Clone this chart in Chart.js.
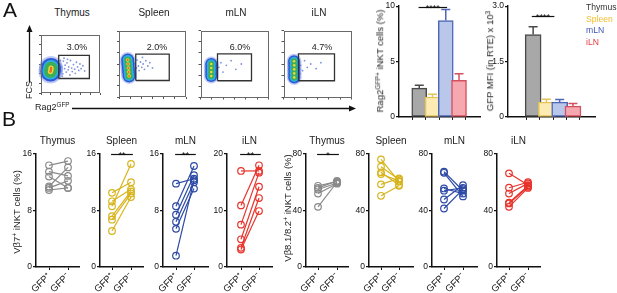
<!DOCTYPE html>
<html><head><meta charset="utf-8">
<script src="https://cdn.jsdelivr.net/npm/chart.js@4.4.0/dist/chart.umd.min.js"></script>
<style>
body{margin:0;width:617px;height:293px;position:relative;background:#fff;font-family:"Liberation Sans",Arial,sans-serif;overflow:hidden}
canvas{position:absolute}
.t{position:absolute;white-space:nowrap;color:#222;font-size:10px;line-height:1}
.c{transform:translate(-50%,-50%)}
.r{transform:translate(-50%,-50%) rotate(-90deg)}
sup{font-size:70%;vertical-align:0;position:relative;top:-0.45em}
</style></head><body>
<svg width="617" height="293" style="position:absolute;left:0;top:0">
  <line x1="29.5" y1="82" x2="29.5" y2="31" stroke="#111" stroke-width="1.3"/>
  <polygon points="29.5,25 26.5,32 32.5,32" fill="#111"/>
  <line x1="72" y1="108.5" x2="350" y2="108.5" stroke="#111" stroke-width="1.3"/>
  <polygon points="356,108.5 349,105.5 349,111.5" fill="#111"/>
</svg>
<script>
// ---------------- DATA ----------------
const tissues = ['Thymus', 'Spleen', 'mLN', 'iLN'];
const gfpLabels = ['GFP⁺', 'GFP⁻'];
const gatePct = ['3.0%', '2.0%', '6.0%', '4.7%'];

// Panel A bar charts
const ragPct = [2.6, 1.8, 8.7, 3.3];
const ragPctErr = [0.25, 0.25, 1.0, 0.6];
const gfpMfi = [2.23, 0.40, 0.40, 0.29];
const gfpMfiErr = [0.21, 0.08, 0.07, 0.07];

// Panel A flow plots (axis units 0-100)
const gateThymus = [30, 82, 25, 65];
const gateSpleen = [25, 75, 25, 65];
const gateMLN = [25, 75, 25, 65];
const gateILN = [22, 75, 25, 65];
const blobThymus = [[16, 37], [17, 40], [17, 43]];
const blobSpleen = [[13, 56], [13.5, 50], [14, 44], [14.5, 38], [15, 32]];
const blobMLN = [[15.8, 50], [15.8, 44], [15.8, 38], [15.8, 32]];
const blobILN = [[15.5, 54], [15.8, 48], [15.8, 42], [15.8, 36], [15.8, 30]];
const dotsThymus = [[32,50],[34,38],[35,45],[37,33],[38,55],[40,42],[41,48],[43,36],[44,52],[46,40],[47,45],[49,31],[50,56],[52,43],[53,37],[55,49],[57,41],[58,34],[60,53],[62,45],[64,39],[66,50],[68,42],[71,47],[74,38],[31,42],[33,56],[36,29],[39,60],[45,58],[26,48],[28,35]];
const dotsSpleen = [[24,50],[26,44],[27,56],[29,47],[30,40],[32,53],[34,45],[36,50],[38,42],[40,55],[43,47],[46,52],[50,44],[22,38],[35,60]];
const dotsMLN = [[27,45],[30,52],[33,38],[38,48],[45,55],[52,42],[24,40],[60,50]];
const dotsILN = [[25,48],[28,40],[31,55],[35,45],[40,50],[48,43],[24,36],[55,52]];

// Panel B paired values (GFP+ , GFP-)
const vb7ThymusPos = [14.4, 13.5, 12.8, 11.4, 11.2, 10.9];
const vb7ThymusNeg = [15.0, 12.9, 11.2, 14.1, 12.2, 11.2];
const vb7SpleenPos = [10.5, 9.3, 8.6, 7.2, 6.7, 5.1];
const vb7SpleenNeg = [12.0, 11.0, 14.6, 10.7, 10.4, 9.9];
const vb7MLNPos = [11.8, 8.6, 7.4, 6.4, 5.4, 1.6];
const vb7MLNNeg = [12.5, 14.3, 13.0, 12.0, 11.1, 12.3];
const vb7ILNPos = [17.0, 10.9, 7.5, 4.9, 3.4, 3.1];
const vb7ILNNeg = [17.0, 18.0, 16.7, 14.2, 12.2, 9.9];
const vb8ThymusPos = [57.5, 56, 54.9, 52, 42.6];
const vb8ThymusNeg = [60.5, 61, 59.5, 59, 60];
const vb8SpleenPos = [76.2, 71, 67, 65.8, 58.5, 50.4];
const vb8SpleenNeg = [60.4, 62, 58, 61, 62.7, 57.5];
const vb8MLNPos = [67.5, 66.7, 55.6, 54, 47.8, 41.4];
const vb8MLNNeg = [54, 50, 52, 56, 58, 55];
const vb8ILNPos = [66.3, 56.1, 52, 45.5, 45, 42.6];
const vb8ILNNeg = [58, 60, 59.2, 57.5, 56.8, 56];

// ---------------- STYLE / LAYOUT ----------------
const FONT = '"Liberation Sans", Arial, sans-serif';
Chart.defaults.font.family = FONT;
Chart.defaults.font.size = 8.5;
Chart.defaults.color = '#111';
const tissueLine = ['#8a8a8a', '#d8b41e', '#2c4aa6', '#e8342c'];
const barFill = ['#a8a8a8', '#fcecb4', '#b9c7ea', '#f5a8b0'];
const barEdge = ['#4a4a4a', '#e4c45a', '#4d66b6', '#d5505e'];
const blobColors = ['rgba(120,145,230,0.45)', '#3058d4', '#26b2e2', '#40ad55', '#e2da40', '#ee6a22'];

function place(L, T, R, B, padT, padR, axW, axH) {
  const c = document.createElement('canvas');
  const w = R - L + axW + padR, h = B - T + padT + axH;
  c.width = w; c.height = h;
  c.style.left = (L - axW) + 'px'; c.style.top = (T - padT) + 'px';
  c.style.width = w + 'px'; c.style.height = h + 'px';
  document.body.appendChild(c);
  return c;
}
function text(html, x, y, cls, size, color, extra) {
  const d = document.createElement('div');
  d.className = 't ' + cls;
  d.innerHTML = html;
  d.style.left = x + 'px'; d.style.top = y + 'px';
  if (size) d.style.fontSize = size + 'px';
  if (color) d.style.color = color;
  if (extra) Object.assign(d.style, extra);
  document.body.appendChild(d);
}
const base = (padT, padR) => ({
  responsive: false, animation: false, devicePixelRatio: 1, events: [],
  layout: { padding: { top: padT, right: padR, left: 0, bottom: 0 } },
  plugins: { legend: { display: false }, tooltip: { enabled: false } }
});

const sigPlugin = {
  id: 'sig',
  afterDatasetsDraw(chart, args, o) {
    if (!o || o.text == null) return;
    const { ctx, scales: { x, y } } = chart;
    const x1 = x.getPixelForValue(o.from), x2 = x.getPixelForValue(o.to), yy = Math.round(y.getPixelForValue(o.y)) + 0.5;
    ctx.save();
    ctx.strokeStyle = '#111'; ctx.lineWidth = 1.2;
    ctx.beginPath(); ctx.moveTo(x1, yy); ctx.lineTo(x2, yy); ctx.stroke();
    ctx.fillStyle = '#111'; ctx.font = '9px ' + FONT; ctx.textAlign = 'center'; ctx.textBaseline = 'alphabetic';
    ctx.fillText(o.text, (x1 + x2) / 2, yy + 3);
    ctx.restore();
  }
};
const errPlugin = {
  id: 'err',
  afterDatasetsDraw(chart, args, o) {
    if (!o || !o.errors) return;
    const { ctx } = chart, y = chart.scales.y;
    const ds = chart.data.datasets[0];
    chart.getDatasetMeta(0).data.forEach((bar, i) => {
      const top = y.getPixelForValue(ds.data[i].y + o.errors[i]);
      ctx.save();
      ctx.strokeStyle = ds.borderColor[i]; ctx.lineWidth = 1.5;
      ctx.beginPath();
      ctx.moveTo(bar.x, bar.y); ctx.lineTo(bar.x, top);
      ctx.moveTo(bar.x - 4.5, top); ctx.lineTo(bar.x + 4.5, top);
      ctx.stroke();
      ctx.restore();
    });
  }
};
const framePlugin = {
  id: 'frame',
  afterDraw(chart) {
    const a = chart.chartArea, ctx = chart.ctx;
    ctx.save(); ctx.strokeStyle = '#6a6a6a'; ctx.lineWidth = 1;
    ctx.strokeRect(Math.round(a.left) + 0.5, Math.round(a.top) + 0.5, Math.round(a.right - a.left) - 1, Math.round(a.bottom - a.top) - 1);
    ctx.restore();
  }
};

// ---------------- PANEL A: flow plots ----------------
const flowGeom = [{ L: 34, R: 110 }, { L: 116, R: 192 }, { L: 198, R: 274 }, { L: 281, R: 357 }];
const flowGates = [gateThymus, gateSpleen, gateMLN, gateILN];
const flowBlobs = [blobThymus, blobSpleen, blobMLN, blobILN];
const flowDots = [dotsThymus, dotsSpleen, dotsMLN, dotsILN];
const blobRadii = [[12, 10, 8, 6.3, 2.6, 1.2], [8, 6.5, 5, 3.4, 1.8, 1.0], [7.5, 6, 4.5, 3, 1.3, 0], [7.5, 6, 4.5, 3, 1.3, 0]];
const pctPos = [77, 157, 240, 322];

flowGeom.forEach((g, i) => {
  const c = place(g.L, 25, g.R, 100, 2, 2, 5, 5);
  const gate = flowGates[i];
  const ds = [{
    type: 'line', showLine: true,
    data: [{ x: gate[0], y: gate[2] }, { x: gate[1], y: gate[2] }, { x: gate[1], y: gate[3] }, { x: gate[0], y: gate[3] }, { x: gate[0], y: gate[2] }],
    borderColor: '#333', borderWidth: 1.3, pointRadius: 0, fill: false, clip: false, tension: 0
  }];
  const radii = blobRadii[i];
  for (let k = radii.length - 1; k >= 0; k--) {
    if (!radii[k]) continue;
    ds.push({ data: flowBlobs[i].map(p => ({ x: p[0], y: p[1] })), pointRadius: radii[k], pointBackgroundColor: blobColors[k], pointBorderWidth: 0, clip: false });
  }
  ds.push({ data: flowDots[i].map(p => ({ x: p[0], y: p[1] })), pointRadius: 0.9, pointBackgroundColor: 'rgba(80,110,210,0.75)', pointBorderWidth: 0 });
  const axis = () => ({
    type: 'linear', min: 0, max: 100,
    ticks: { display: false, stepSize: 100 / 6 },
    grid: { drawOnChartArea: false, tickLength: 2, color: '#555' },
    border: { display: false }
  });
  const xs = axis(); xs.afterFit = s => { s.height = 5; };
  const ys = axis(); ys.afterFit = s => { s.width = 5; };
  new Chart(c, {
    type: 'scatter', data: { datasets: ds },
    options: Object.assign(base(2, 2), { scales: { x: xs, y: ys } }),
    plugins: [framePlugin]
  });
  text(tissues[i], (g.L + g.R) / 2, 13, 'c', 10);
  text(gatePct[i], pctPos[i], 47, 'c', 9);
});
text('A', 3, -1, '', 21, '#111');
text('FCS', 29, 90, 'r', 9);
text('Rag2<sup>GFP</sup>', 35, 103, '', 9);

// ---------------- PANEL A: bar charts ----------------
function barChart(L, R, p0, step, vals, errs, max, stepSize, fmt, sig, axW, thick) {
  const c = place(L, 4, R, 117, 4, 2, axW, 6);
  new Chart(c, {
    type: 'bar',
    data: { datasets: [{
      data: vals.map((v, i) => ({ x: i, y: v })),
      backgroundColor: barFill, borderColor: barEdge, borderWidth: 1.5, borderSkipped: false, barThickness: thick
    }] },
    options: Object.assign(base(4, 2), {
      plugins: { legend: { display: false }, tooltip: { enabled: false }, err: { errors: errs }, sig: sig },
      scales: {
        x: {
          type: 'linear', min: (L - p0) / step, max: (R - p0) / step,
          afterBuildTicks: s => { s.ticks = vals.map((v, i) => ({ value: i })); },
          ticks: { display: false },
          grid: { drawOnChartArea: false, tickLength: 3, color: '#111', lineWidth: 1 },
          border: { color: '#111', width: 1.4 },
          afterFit: s => { s.height = 6; }
        },
        y: {
          min: 0, max: max,
          ticks: { stepSize: stepSize, padding: 1, callback: fmt, font: { size: 8.5 } },
          grid: { drawOnChartArea: false, tickLength: 3, color: '#111', lineWidth: 1.2 },
          border: { color: '#111', width: 1.4 },
          afterFit: s => { s.width = axW; }
        }
      }
    }),
    plugins: [errPlugin, sigPlugin]
  });
}
barChart(399, 480, 412.5, 17.67, ragPct, ragPctErr, 10, 5, v => String(v), { from: -0.05, to: 2.1, y: 9.9, text: '****' }, 16, 15);
barChart(508, 595, 527, 17.7, gfpMfi, gfpMfiErr, 3, 1.5, v => v === 0 ? '0' : v.toFixed(1), { from: -0.1, to: 1.6, y: 2.73, text: '****' }, 18, 16);
text('Rag2<sup>GFP+</sup> iNKT cells (%)', 380, 61, 'r', 9.5);
text('GFP MFI (in RTE) x 10<sup>3</sup>', 490, 61, 'r', 9.5);
const legendColors = ['#333', '#f0bd2a', '#3c54b4', '#e63a3e'];
tissues.forEach((t, i) => text(t, 586, 7 + i * 11.7, '', 8.6, legendColors[i], { transform: 'translateY(-50%)' }));

// ---------------- PANEL B: paired plots ----------------
const pairedPos = [vb7ThymusPos, vb7SpleenPos, vb7MLNPos, vb7ILNPos, vb8ThymusPos, vb8SpleenPos, vb8MLNPos, vb8ILNPos];
const pairedNeg = [vb7ThymusNeg, vb7SpleenNeg, vb7MLNNeg, vb7ILNNeg, vb8ThymusNeg, vb8SpleenNeg, vb8MLNNeg, vb8ILNNeg];
const pairedMax = [16, 16, 16, 20, 80, 80, 80, 80];
const pairedStep = [8, 8, 8, 10, 40, 40, 40, 40];
const pairedSig = [null, '**', '**', '**', '*', null, null, null];
const bGeom = [[36, 79, 49, 68], [100, 143, 112, 131], [163, 208, 176, 194], [227, 272, 241, 259],
               [306, 348, 318, 337], [369, 413, 381, 399], [432, 477, 444, 463], [497, 540, 509, 528]];

bGeom.forEach((g, i) => {
  const [L, R, p1, p2] = g, s = p2 - p1;
  const col = tissueLine[i % 4];
  const c = place(L, 154, R, 267, 14, 6, 22, 32);
  const ds = pairedPos[i].map((v, k) => ({
    type: 'line', data: [{ x: 0, y: v }, { x: 1, y: pairedNeg[i][k] }],
    borderColor: col, borderWidth: 1.2, pointRadius: 3.3, pointBorderWidth: 1.2,
    pointBorderColor: col, pointBackgroundColor: 'rgba(255,255,255,0)', clip: false, tension: 0
  }));
  const sig = pairedSig[i] ? { from: -0.05, to: 1.1, y: pairedMax[i], text: pairedSig[i] } : {};
  new Chart(c, {
    type: 'scatter', data: { datasets: ds },
    options: Object.assign(base(14, 6), {
      plugins: { legend: { display: false }, tooltip: { enabled: false }, sig: sig },
      scales: {
        x: {
          type: 'linear', min: (L - p1) / s, max: (R - p1) / s,
          afterBuildTicks: sc => { sc.ticks = [{ value: 0 }, { value: 1 }]; },
          ticks: { callback: v => gfpLabels[v] ?? '', minRotation: 45, maxRotation: 45, autoSkip: false, padding: 1, font: { size: 9.5 } },
          grid: { drawOnChartArea: false, tickLength: 3, color: '#111', lineWidth: 1 },
          border: { color: '#111', width: 1.5 },
          afterFit: sc => { sc.height = 32; }
        },
        y: {
          min: 0, max: pairedMax[i],
          ticks: { stepSize: pairedStep[i], padding: 1, font: { size: 8.5 } },
          grid: { drawOnChartArea: false, tickLength: 3, color: '#111', lineWidth: 1.2 },
          border: { color: '#111', width: 1.5 },
          afterFit: sc => { sc.width = 22; }
        }
      }
    }),
    plugins: [sigPlugin]
  });
  text(tissues[i % 4], (L + R) / 2, 141, 'c', 10);
});
text('B', 2, 108, '', 21, '#111');
text('Vβ7<sup>+</sup> iNKT cells (%)', 17, 212, 'r', 9.5);
text('Vβ8.1/8.2<sup>+</sup> iNKT cells (%)', 288, 208, 'r', 9.5);
</script>
</body></html>
